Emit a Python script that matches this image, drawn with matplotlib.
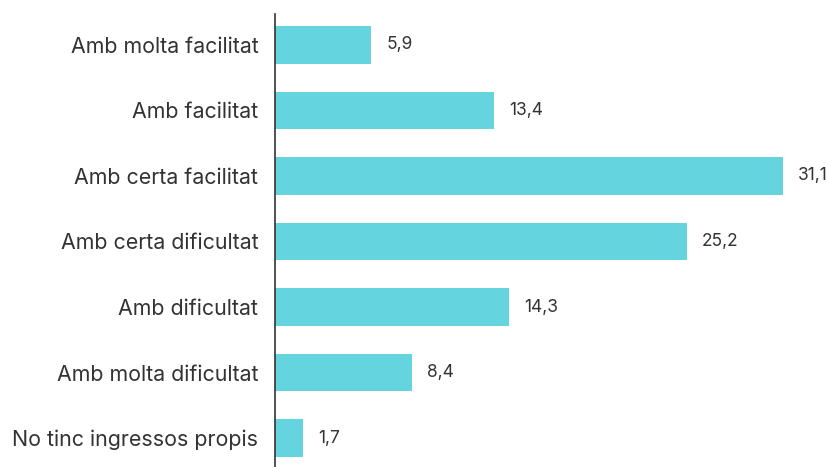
import matplotlib.pyplot as plt

categories = ["Amb molta facilitat", "Amb facilitat", "Amb certa facilitat",
              "Amb certa dificultat", "Amb dificultat", "Amb molta dificultat",
              "No tinc ingressos propis"]
values = [5.9, 13.4, 31.1, 25.2, 14.3, 8.4, 1.7]
value_labels = ["5,9", "13,4", "31,1", "25,2", "14,3", "8,4", "1,7"]

plt.rcParams['font.family'] = ['Inter', 'DejaVu Sans']

fig = plt.figure(figsize=(8.27, 4.67), dpi=100)
ax = fig.add_axes([275 / 827, 0, 1 - 275 / 827, (467 - 14) / 467])

pos = list(range(len(categories)))
ax.barh(pos, values, height=0.575, color="#64D4DF")
for p, v, lab in zip(pos, values, value_labels):
    ax.annotate(lab, (v, p), xytext=(11, 0), textcoords="offset points",
                va="center", ha="left", fontsize=12.5, color="#333333")

ax.set_yticks(pos)
ax.set_yticklabels(categories, fontsize=15.4, color="#333333")
ax.set_ylim(6.44, -0.47)
ax.set_xlim(0, 33.8)
ax.set_xticks([])
ax.tick_params(axis="y", length=0, pad=12)
for s in ["top", "right", "bottom"]:
    ax.spines[s].set_visible(False)
ax.spines["left"].set_color("#333333")
ax.spines["left"].set_linewidth(1.2)

fig.savefig("out.png", dpi=100)
